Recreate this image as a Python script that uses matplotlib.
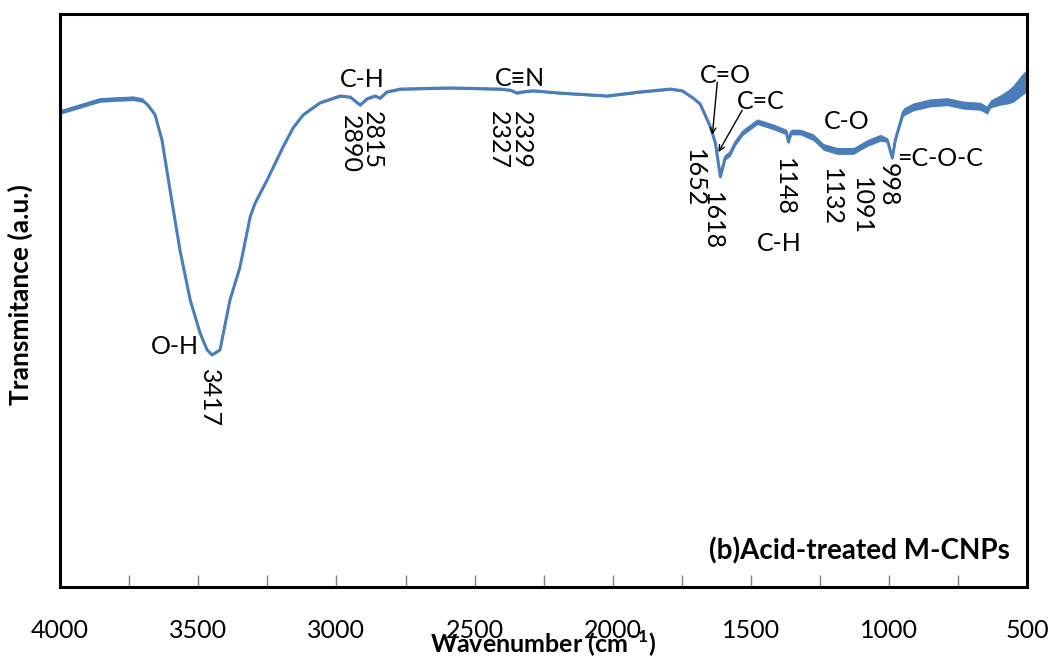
import numpy as np
import matplotlib
matplotlib.use("Agg")
import matplotlib.pyplot as plt

# FTIR spectrum of acid-treated M-CNPs (arbitrary transmittance units)
wavenumber = [4000, 3917, 3855, 3736, 3703, 3682, 3656, 3631, 3602, 3566,
              3529, 3493, 3468, 3450, 3421, 3385, 3349, 3312, 3294, 3251,
              3193, 3157, 3120, 3059, 2986, 2950, 2914, 2889, 2860, 2842,
              2817, 2769, 2588, 2407, 2371, 2346, 2328, 2288, 2190, 2020,
              1901, 1792, 1749, 1709, 1684, 1647, 1629, 1611, 1593, 1575,
              1557, 1528, 1477, 1419, 1372, 1365, 1354, 1322, 1275, 1238,
              1188, 1130, 1079, 1032, 1007, 989, 978, 971, 960, 949,
              913, 851, 790, 732, 671, 645, 634, 598, 572, 551,
              525, 500]
transmittance = [82.9, 84.1, 85.0, 85.3, 85.0, 84.1, 82.4, 78.0, 69.3, 58.8,
                 50.1, 44.3, 41.4, 40.5, 41.4, 50.1, 55.8, 64.6, 67.0, 71.0,
                 76.8, 80.1, 82.4, 84.5, 85.7, 85.5, 84.1, 85.2, 85.7, 85.3,
                 86.4, 86.9, 87.1, 86.9, 86.7, 86.2, 86.4, 86.6, 86.2, 85.7,
                 86.4, 86.9, 86.6, 85.3, 84.3, 80.3, 77.5, 71.6, 75.0, 75.7,
                 77.5, 79.4, 81.2, 80.3, 79.4, 77.7, 79.4, 79.4, 78.5, 76.8,
                 76.1, 76.1, 77.5, 78.4, 78.0, 74.9, 78.0, 79.2, 81.0, 82.9,
                 83.8, 84.5, 84.7, 84.1, 83.9, 83.2, 84.3, 85.0, 85.5, 86.1,
                 87.4, 88.5]
# half-width of the instrument noise band around the trace
noise_halfwidth = [0.4, 0.4, 0.4, 0.4, 0.4, 0.15, 0.15, 0.15, 0.15, 0.15,
                   0.15, 0.15, 0.15, 0.15, 0.15, 0.15, 0.15, 0.15, 0.15, 0.15,
                   0.15, 0.15, 0.15, 0.15, 0.2, 0.2, 0.2, 0.2, 0.2, 0.2,
                   0.2, 0.2, 0.2, 0.2, 0.2, 0.2, 0.2, 0.2, 0.2, 0.2,
                   0.2, 0.2, 0.2, 0.2, 0.3, 0.3, 0.3, 0.3, 0.5, 0.5,
                   0.5, 0.5, 0.5, 0.5, 0.5, 0.5, 0.5, 0.5, 0.6, 0.6,
                   0.6, 0.6, 0.6, 0.6, 0.4, 0.4, 0.4, 0.4, 0.4, 0.7,
                   0.7, 0.7, 0.7, 0.7, 0.7, 0.7, 0.7, 0.9, 1.2, 1.5,
                   1.8, 2.0]

# peak labels: (text, wavenumber, transmittance, rotation)
peak_labels = [
    ("C-H", 2907, 88.5, 0), ("2890", 2950, 77.3, 270), ("2815", 2871, 78.0, 270),
    ("C\u2261N", 2335, 88.7, 0), ("2327", 2415, 78.0, 270), ("2329", 2331, 78.0, 270),
    ("C=O", 1593, 89.2, 0), ("C=C", 1466, 84.8, 0),
    ("1652", 1705, 71.4, 270), ("1618", 1640, 63.9, 270),
    ("1148", 1380, 69.8, 270), ("C-H", 1398, 60.0, 0),
    ("C-O", 1155, 81.3, 0), ("1132", 1209, 68.1, 270), ("1091", 1101, 66.5, 270),
    ("998", 1003, 70.2, 270), ("=C-O-C", 815, 74.7, 0),
    ("O-H", 3584, 41.9, 0), ("3417", 3461, 33.0, 270),
]
# arrows: (start wn, start T, tip wn, tip T)
arrows = [(1622, 88.1, 1640, 78.9), (1532, 83.2, 1618, 75.9)]

sample_name = "(b)Acid-treated M-CNPs"
x_ticks = [4000, 3500, 3000, 2500, 2000, 1500, 1000, 500]

font = ["Lato", "DejaVu Sans"]
plt.rcParams["font.family"] = font
plt.rcParams["mathtext.fontset"] = "custom"
plt.rcParams["mathtext.rm"] = "Lato"
plt.rcParams["mathtext.bf"] = "Lato:bold"
line_color = "#4A7EBB"

fig = plt.figure(figsize=(10.6, 6.57), dpi=100)
ax = fig.add_axes([0.0566, 0.1065, 0.9127, 0.8722])

wn = np.array(wavenumber)
tr = np.array(transmittance)
hw = np.array(noise_halfwidth)
ax.fill_between(wn, tr - hw, tr + hw, color=line_color, lw=0)
ax.plot(wn, tr, color=line_color, lw=2.2)

ax.set_xlim(4000, 500)
ax.set_ylim(0, 100)
ax.set_yticks([])
ax.set_xticks(x_ticks)
ax.set_xticks(np.arange(3750, 500, -500), minor=True)
ax.tick_params(axis="x", which="both", direction="in", length=9, width=1,
               color="#808080", labelsize=18, pad=23)
for s in ax.spines.values():
    s.set_linewidth(2.2)
    s.set_color("black")

for text, x, y, rot in peak_labels:
    ax.text(x, y, text, rotation=rot, ha="center", va="center",
            fontsize=18, family=font)
for x0, y0, x1, y1 in arrows:
    ax.annotate("", xy=(x1, y1), xytext=(x0, y0),
                arrowprops=dict(arrowstyle="->", color="black", lw=1.0,
                                shrinkA=0, shrinkB=0))

ax.text(562, 6.3, sample_name, ha="right", va="center", fontsize=20,
        fontweight="bold")

ax.set_xlabel(r"Wavenumber (cm$^{\mathbf{-1}}$)", fontsize=18,
              fontweight="bold")
ax.xaxis.set_label_coords(0.5, -0.072)
ax.xaxis.label.set_va("top")
ax.set_ylabel("Transmitance (a.u.)", fontsize=19, fontweight="bold")
ax.yaxis.set_label_coords(-0.028, 0.51)

fig.savefig("out.png", dpi=100, facecolor="white")
